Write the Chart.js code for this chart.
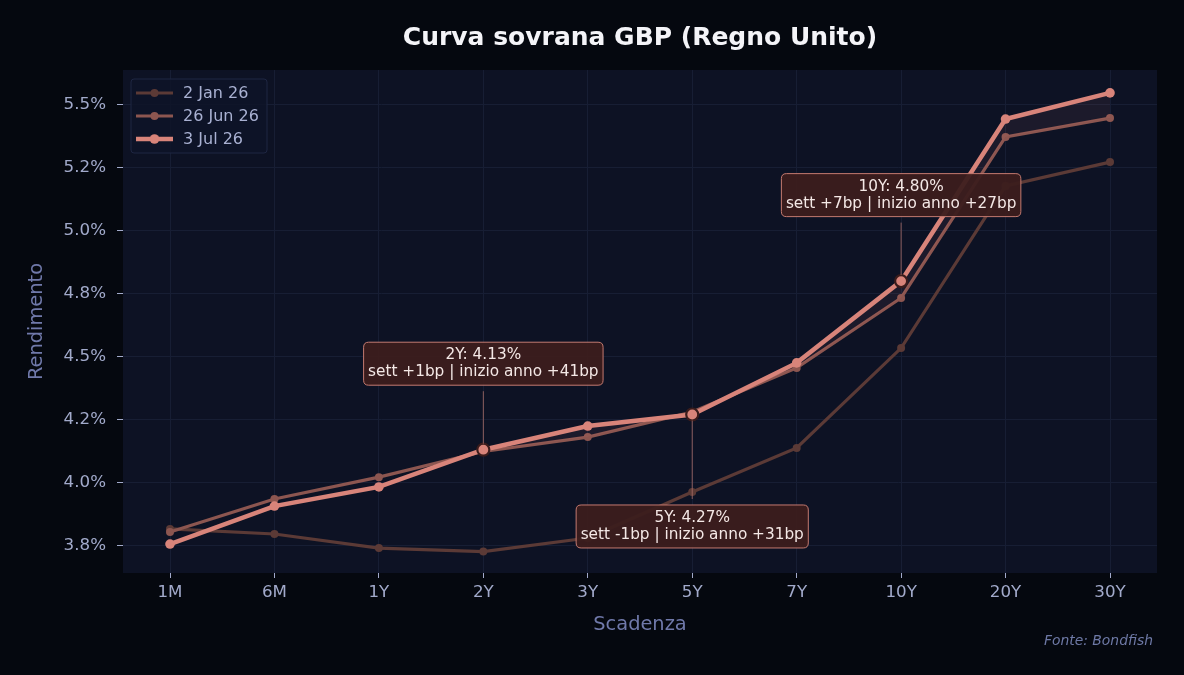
<!DOCTYPE html>
<html>
<head>
<meta charset="utf-8">
<script src="https://cdn.jsdelivr.net/npm/chart.js@4/dist/chart.umd.min.js"></script>
<style>
  html, body { margin: 0; padding: 0; background: #05080f; }
  #wrap { width: 1184px; height: 675px; position: relative; }
</style>
</head>
<body>
<div id="wrap"><canvas id="c" width="1184" height="675"></canvas></div>
<script>
// ---- data ----
const categories = ['1M', '6M', '1Y', '2Y', '3Y', '5Y', '7Y', '10Y', '20Y', '30Y'];
const seriesNames = ['2 Jan 26', '26 Jun 26', '3 Jul 26'];
const jan2 = [3.815, 3.795, 3.739, 3.725, 3.779, 3.962, 4.137, 4.534, 5.178, 5.273];
const jun26 = [3.803, 3.934, 4.021, 4.123, 4.180, 4.280, 4.455, 4.733, 5.373, 5.448];
const jul3 = [3.755, 3.906, 3.982, 4.130, 4.224, 4.270, 4.475, 4.800, 5.444, 5.548];
const yTickValues = [3.75, 4.0, 4.25, 4.5, 4.75, 5.0, 5.25, 5.5];
const yTickLabels = ['3.8%', '4.0%', '4.2%', '4.5%', '4.8%', '5.0%', '5.2%', '5.5%'];
const annotIndex = [3, 5, 7];
const annotTitles = ['2Y: 4.13%', '5Y: 4.27%', '10Y: 4.80%'];
const annotDetails = ['sett +1bp | inizio anno +41bp', 'sett -1bp | inizio anno +31bp', 'sett +7bp | inizio anno +27bp'];
const sourceText = 'Fonte: Bondfish';
const titleText = 'Curva sovrana GBP (Regno Unito)';

// ---- styles ----
const FONT = "'DejaVu Sans', sans-serif";
const colJan = '#5b3a36';
const colJun = '#8c5650';
const colJul = '#d8847a';
const annotOffsets = [-86, 112, -86];

const toXY = arr => arr.map((v, i) => ({ x: i, y: v }));

const bgPlugin = {
  id: 'bgPlugin',
  beforeDraw(chart) {
    const { ctx, chartArea: a } = chart;
    ctx.save();
    ctx.fillStyle = '#05080f';
    ctx.fillRect(0, 0, chart.width, chart.height);
    ctx.fillStyle = '#0d1224';
    ctx.fillRect(a.left, a.top, a.right - a.left, a.bottom - a.top);
    ctx.restore();
  },
  afterDraw(chart) {
    const { ctx, chartArea: a } = chart;
    ctx.save();
    ctx.fillStyle = '#f4f4f8';
    ctx.font = 'bold 25px ' + FONT;
    ctx.textAlign = 'center';
    ctx.textBaseline = 'middle';
    ctx.fillText(titleText, (a.left + a.right) / 2, 38);
    ctx.fillStyle = '#6e79a6';
    ctx.font = 'italic 13.9px ' + FONT;
    ctx.textAlign = 'right';
    ctx.fillText(sourceText, 1153, 641);
    ctx.restore();
  }
};

function roundRect(ctx, x, y, w, h, r) {
  ctx.beginPath();
  ctx.moveTo(x + r, y);
  ctx.lineTo(x + w - r, y);
  ctx.quadraticCurveTo(x + w, y, x + w, y + r);
  ctx.lineTo(x + w, y + h - r);
  ctx.quadraticCurveTo(x + w, y + h, x + w - r, y + h);
  ctx.lineTo(x + r, y + h);
  ctx.quadraticCurveTo(x, y + h, x, y + h - r);
  ctx.lineTo(x, y + r);
  ctx.quadraticCurveTo(x, y, x + r, y);
  ctx.closePath();
}

const annotPlugin = {
  id: 'annotPlugin',
  afterDatasetsDraw(chart) {
    const ctx = chart.ctx;
    const meta = chart.getDatasetMeta(2);
    ctx.save();
    annotIndex.forEach((idx, k) => {
      const pt = meta.data[idx];
      const px = pt.x, py = pt.y;
      const dy = annotOffsets[k];
      ctx.font = '15.3px ' + FONT;
      const w = Math.max(ctx.measureText(annotTitles[k]).width, ctx.measureText(annotDetails[k]).width) + 9;
      const h = 43;
      const cx = px, cy = py + dy;
      const bx = cx - w / 2, by = cy - h / 2;
      // connector
      ctx.strokeStyle = 'rgba(170,110,105,0.8)';
      ctx.lineWidth = 1;
      ctx.beginPath();
      if (dy < 0) {
        ctx.moveTo(px, by + h + 6);
        ctx.lineTo(px, py - 6);
      } else {
        ctx.moveTo(px, py + 6);
        ctx.lineTo(px, by - 6);
      }
      ctx.stroke();
      // box
      roundRect(ctx, bx, by, w, h, 5);
      ctx.fillStyle = 'rgba(60,30,30,0.95)';
      ctx.fill();
      ctx.strokeStyle = '#c47a70';
      ctx.lineWidth = 1;
      ctx.stroke();
      ctx.fillStyle = '#f4e8e6';
      ctx.textAlign = 'center';
      ctx.textBaseline = 'middle';
      ctx.fillText(annotTitles[k], cx, cy - 8.5);
      ctx.fillText(annotDetails[k], cx, cy + 8.5);
    });
    ctx.restore();
  }
};

const legendPlugin = {
  id: 'legendPlugin',
  afterDraw(chart) {
    const { ctx, chartArea: a } = chart;
    const x0 = a.left + 8, y0 = a.top + 9;
    ctx.save();
    roundRect(ctx, x0, y0, 136, 74, 3);
    ctx.fillStyle = 'rgba(14,20,40,0.85)';
    ctx.fill();
    ctx.strokeStyle = '#1e2642';
    ctx.lineWidth = 1;
    ctx.stroke();
    chart.data.datasets.forEach((ds, i) => {
      const yy = y0 + 14 + i * 23;
      ctx.strokeStyle = ds.borderColor;
      ctx.lineWidth = ds.borderWidth;
      ctx.beginPath();
      ctx.moveTo(x0 + 5, yy);
      ctx.lineTo(x0 + 42, yy);
      ctx.stroke();
      ctx.fillStyle = ds.borderColor;
      ctx.beginPath();
      ctx.arc(x0 + 23.5, yy, ds.legendRadius, 0, Math.PI * 2);
      ctx.fill();
      ctx.fillStyle = '#a9b1d2';
      ctx.font = '16px ' + FONT;
      ctx.textAlign = 'left';
      ctx.textBaseline = 'middle';
      ctx.fillText(ds.label, x0 + 52, yy + 1);
    });
    ctx.restore();
  }
};

const isAnnot = ctx => annotIndex.includes(ctx.dataIndex);

new Chart(document.getElementById('c'), {
  type: 'line',
  data: {
    datasets: [
      {
        label: seriesNames[0], data: toXY(jan2), borderColor: colJan, backgroundColor: colJan,
        borderWidth: 3.2, pointRadius: 4, pointBorderWidth: 0, pointBackgroundColor: colJan,
        fill: false, order: 2, legendRadius: 4
      },
      {
        label: seriesNames[1], data: toXY(jun26), borderColor: colJun, backgroundColor: colJun,
        borderWidth: 3.2, pointRadius: 4, pointBorderWidth: 0, pointBackgroundColor: colJun,
        fill: false, order: 1, legendRadius: 4
      },
      {
        label: seriesNames[2], data: toXY(jul3), borderColor: colJul, backgroundColor: colJul,
        borderWidth: 4.5,
        pointRadius: c => isAnnot(c) ? 6 : 4.8,
        pointBorderWidth: c => isAnnot(c) ? 2.2 : 0,
        pointBorderColor: c => isAnnot(c) ? '#3a1c1c' : colJul,
        pointBackgroundColor: colJul,
        fill: { target: 1, above: 'rgba(216,132,122,0.08)', below: 'rgba(0,0,0,0)' },
        order: 0, legendRadius: 4.8
      }
    ]
  },
  options: {
    responsive: false,
    animation: false,
    devicePixelRatio: 1,
    layout: { padding: { top: 70, right: 27, left: 0, bottom: 0 } },
    plugins: { legend: { display: false }, tooltip: { enabled: false }, title: { display: false } },
    scales: {
      x: {
        type: 'linear', min: -0.45, max: 9.45,
        afterFit: s => { s.height = 102; },
        afterBuildTicks: s => { s.ticks = categories.map((c, i) => ({ value: i })); },
        ticks: {
          color: '#a2aacb', font: { family: FONT, size: 16.7 }, padding: 5,
          callback: v => categories[v]
        },
        grid: { color: '#171e34', lineWidth: 1, tickLength: 5, tickColor: '#a2aacb', drawTicks: true },
        border: { display: false },
        title: { display: true, text: 'Scadenza', color: '#7079aa', font: { family: FONT, size: 19.4 }, padding: { top: 0, bottom: 38 } }
      },
      y: {
        type: 'linear', min: 3.64, max: 5.639,
        afterFit: s => { s.width = 123; },
        afterBuildTicks: s => { s.ticks = yTickValues.map(v => ({ value: v })); },
        ticks: {
          color: '#a2aacb', font: { family: FONT, size: 16.7 }, padding: 11,
          callback: (v) => yTickLabels[yTickValues.indexOf(v)]
        },
        grid: { color: '#171e34', lineWidth: 1, tickLength: 6, tickColor: '#a2aacb', drawTicks: true },
        border: { display: false },
        title: { display: true, text: 'Rendimento', color: '#7079aa', font: { family: FONT, size: 19.4 }, padding: { top: 25, bottom: 0 } }
      }
    }
  },
  plugins: [bgPlugin, annotPlugin, legendPlugin]
});
</script>
</body>
</html>
